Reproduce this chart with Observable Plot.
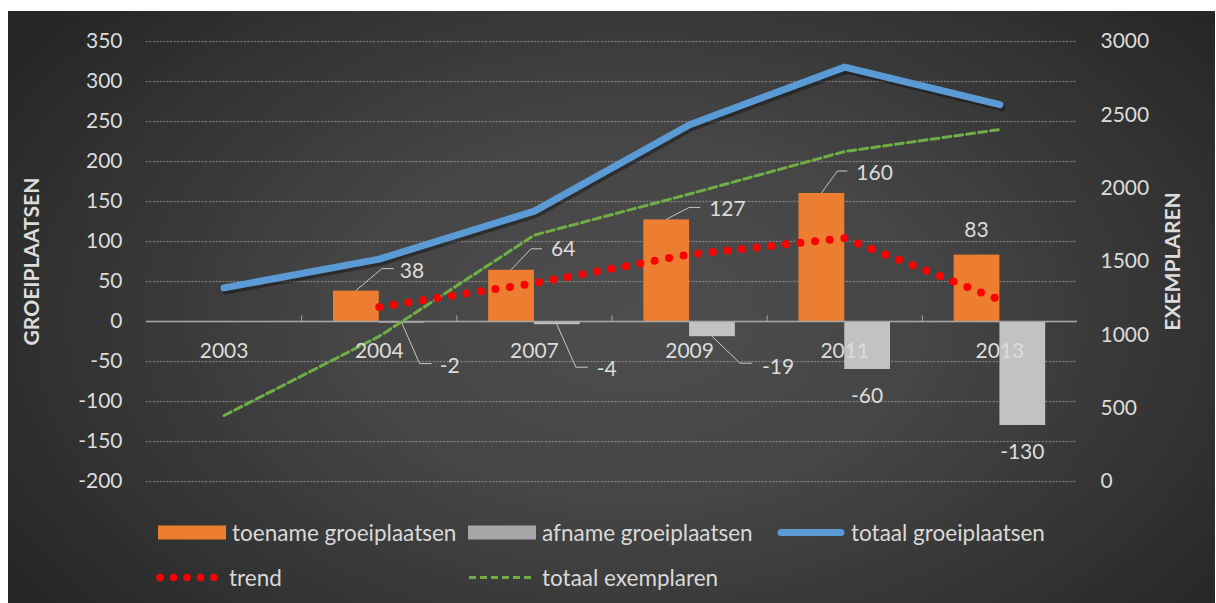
<!DOCTYPE html>
<html>
<head>
<meta charset="utf-8">
<script src="https://cdn.jsdelivr.net/npm/d3@7"></script>
<script src="https://cdn.jsdelivr.net/npm/@observablehq/plot@0.6"></script>
<style>
  html, body { margin: 0; padding: 0; background: #ffffff; }
  #wrap { position: relative; width: 1216px; height: 603px; overflow: hidden; font-family: Lato, "Open Sans", sans-serif; }
  #bg { position: absolute; left: 8px; top: 11px; width: 1207px; height: 592px;
        background: radial-gradient(ellipse 62% 80% at 52% 52%, #4e4e4e 0%, #454545 40%, #333333 75%, #262626 100%); }
  #chart { position: absolute; left: 0; top: 0; }
  #legend { position: absolute; left: 0; top: 500px; width: 1216px; height: 103px; color: #d9d9d9; font-size: 22.5px; }
  .item { position: absolute; display: flex; align-items: center; gap: 6px; white-space: nowrap; transform: translateY(-50%); }
  .item svg { display: block; }
</style>
</head>
<body>
<div id="wrap">
  <div id="bg"></div>
  <div id="chart"></div>
  <div id="legend"></div>
</div>
<script>
// Survey years
const years = ["2003", "2004", "2007", "2009", "2011", "2013"];
// Change in number of growing sites per survey (left axis)
const toename = [null, 38, 64, 127, 160, 83];
const afname = [null, -2, -4, -19, -60, -130];
// Total number of growing sites (left axis)
const totaalGroeiplaatsen = [42, 78, 138, 246, 318, 271];
// Trend of the net change (left axis)
const trend = [null, 18, 48, 84, 104, 27];
// Total number of specimens (right axis)
const totaalExemplaren = [450, 990, 1680, 1960, 2250, 2400];

// Axis ticks
const leftTicks = [-200, -150, -100, -50, 0, 50, 100, 150, 200, 250, 300, 350];
const rightTicks = [0, 500, 1000, 1500, 2000, 2500, 3000];

// Secondary axis mapping: 0..3000 exemplaren onto -200..350 groeiplaatsen
const leftDomain = [-200, 350];
const rightDomain = [0, 3000];
const toLeft = v => leftDomain[0] + (v - rightDomain[0]) * (leftDomain[1] - leftDomain[0]) / (rightDomain[1] - rightDomain[0]);
const fromLeft = v => rightDomain[0] + (v - leftDomain[0]) * (rightDomain[1] - rightDomain[0]) / (leftDomain[1] - leftDomain[0]);

const rows = years.map((year, i) => ({
  i, year,
  toename: toename[i],
  afname: afname[i],
  totaal: totaalGroeiplaatsen[i],
  trend: trend[i],
  exemplaren: totaalExemplaren[i]
}));

const colors = {
  toename: "#ed7d31",
  afname: "#c2c2c2",
  totaal: "#5b9bd5",
  trend: "#ff0000",
  exemplaren: "#70ad47",
  text: "#dcdcdc"
};

const barW = 0.295; // bar width in category units

// Data label placement: leader offsets (px) from the bar end
const labelLayout = [
  {series: "toename", i: 1, leader: [26, -22, 38], text: [44, -20], anchor: "start"},
  {series: "toename", i: 2, leader: [20, -21, 31], text: [40, -21], anchor: "start"},
  {series: "toename", i: 3, leader: [23, -12, 34], text: [43, -11], anchor: "start"},
  {series: "toename", i: 4, leader: [16, -22, 26], text: [35, -20], anchor: "start"},
  {series: "toename", i: 5, leader: null, text: [0, -25], anchor: "middle"},
  {series: "afname", i: 1, leader: [18, 41, 30], text: [38, 43], anchor: "start"},
  {series: "afname", i: 2, leader: [19, 43, 31], text: [40, 44], anchor: "start"},
  {series: "afname", i: 3, leader: [28, 27, 40], text: [50, 30], anchor: "start"},
  {series: "afname", i: 4, leader: null, text: [0, 27], anchor: "middle"},
  {series: "afname", i: 5, leader: null, text: [0, 27], anchor: "middle"}
];

function dataLabels(index, scales) {
  const {x, y} = scales;
  const g = d3.create("svg:g");
  for (const L of labelLayout) {
    const v = L.series === "toename" ? toename[L.i] : afname[L.i];
    const sign = L.series === "toename" ? -1 : 1;
    const cx = x(L.i + sign * barW / 2);
    const cy = y(v);
    if (L.leader) {
      const [dx1, dy1, dx2] = L.leader;
      g.append("path")
        .attr("d", `M${cx},${cy}L${cx + dx1},${cy + dy1}L${cx + dx2},${cy + dy1}`)
        .attr("fill", "none")
        .attr("stroke", "#c8c8c8")
        .attr("stroke-width", 1);
    }
    g.append("text")
      .attr("x", cx + L.text[0])
      .attr("y", cy + L.text[1])
      .attr("dy", "0.35em")
      .attr("text-anchor", L.anchor)
      .attr("fill", colors.text)
      .attr("font-size", 21)
      .text(String(v));
  }
  return g.node();
}

const chart = Plot.plot({
  width: 1216,
  height: 500,
  marginTop: 41,
  marginBottom: 19,
  marginLeft: 146,
  marginRight: 139,
  x: {type: "linear", domain: [-0.5, years.length - 0.5], axis: null},
  y: {domain: leftDomain, label: null},
  style: {background: "transparent", color: colors.text, fontFamily: "Lato, 'Open Sans', sans-serif", fontSize: "21px", overflow: "visible"},
  marks: [
    // gridlines
    Plot.ruleY(leftTicks, {stroke: "#ffffff", strokeOpacity: 0.06, strokeWidth: 2}),
    Plot.ruleY(leftTicks, {stroke: "#bdbdbd", strokeOpacity: 0.55, strokeDasharray: "1.5 2"}),
    // axes
    Plot.axisY(leftTicks, {anchor: "left", tickSize: 0, tickPadding: 24, tickFormat: d => String(d), fontSize: 21, label: null}),
    Plot.axisY(rightTicks.map(toLeft), {anchor: "right", tickSize: 0, tickPadding: 23, tickFormat: d => String(Math.round(fromLeft(d))), fontSize: 21, label: null}),
    // axis titles
    Plot.text(["GROEIPLAATSEN"], {frameAnchor: "left", dx: -114, rotate: -90, textAnchor: "middle", text: d => d, fontWeight: "bold", fontSize: 21, fill: colors.text}),
    Plot.text(["EXEMPLAREN"], {frameAnchor: "right", dx: 96, rotate: -90, textAnchor: "middle", text: d => d, fontWeight: "bold", fontSize: 21, fill: colors.text}),
    // bars
    Plot.rectY(rows.filter(d => d.toename != null), {x1: d => d.i - barW, x2: d => d.i, y1: 0, y2: "toename", fill: colors.toename, ariaLabel: "bars-toename"}),
    Plot.rectY(rows.filter(d => d.afname != null), {x1: d => d.i, x2: d => d.i + barW, y1: 0, y2: "afname", fill: colors.afname, ariaLabel: "bars-afname"}),
    // zero line with category ticks
    Plot.ruleY([0], {stroke: "#a6a6a6", strokeWidth: 1.5}),
    Plot.ruleX(years.slice(1).map((_, i) => i + 0.5), {y1: 0, y2: 7, stroke: "#a6a6a6"}),
    // lines
    Plot.line(rows, {x: "i", y: d => toLeft(d.exemplaren), stroke: colors.exemplaren, strokeWidth: 3, strokeDasharray: "8 4"}),
    Plot.line(rows.filter(d => d.trend != null), {x: "i", y: "trend", stroke: colors.trend, strokeWidth: 8, strokeDasharray: "0 14.7", strokeLinecap: "round"}),
    // shadow under the total line, then the line itself
    Plot.line(rows, {x: "i", y: "totaal", stroke: "#000000", strokeOpacity: 0.35, strokeWidth: 7, dx: 2, dy: 3, strokeLinejoin: "round", strokeLinecap: "round"}),
    Plot.line(rows, {x: "i", y: "totaal", stroke: colors.totaal, strokeWidth: 7, strokeLinejoin: "round", strokeLinecap: "round"}),
    // category labels
    Plot.text(rows, {x: "i", y: 0, text: "year", dy: 30, fill: colors.text, fontSize: 21}),
    // data labels
    dataLabels
  ]
});

// soft drop shadows on the bars
for (const name of ["bars-toename", "bars-afname"]) {
  const g = chart.querySelector(`g[aria-label="${name}"]`);
  if (g) g.style.filter = "drop-shadow(2px 3px 3px rgba(0,0,0,0.55))";
}
document.getElementById("chart").appendChild(chart);

// Legend
const legendItems = [
  {label: "toename groeiplaatsen", key: "toename", left: 158, top: 32},
  {label: "afname groeiplaatsen", key: "afnameSwatch", left: 468, top: 32},
  {label: "totaal groeiplaatsen", key: "totaal", left: 777, top: 32},
  {label: "trend", key: "trend", left: 155, top: 77},
  {label: "totaal exemplaren", key: "exemplaren", left: 468, top: 77}
];

function swatch(key) {
  const svg = d3.create("svg").attr("width", 68).attr("height", 16);
  if (key === "toename" || key === "afnameSwatch") {
    svg.append("rect").attr("x", 0).attr("y", 1).attr("width", 68).attr("height", 14)
      .attr("fill", key === "toename" ? colors.toename : "#a6a6a6");
  } else if (key === "totaal") {
    svg.append("line").attr("x1", 4).attr("x2", 64).attr("y1", 8).attr("y2", 8)
      .attr("stroke", colors.totaal).attr("stroke-width", 7).attr("stroke-linecap", "round");
  } else if (key === "trend") {
    svg.append("line").attr("x1", 5).attr("x2", 64).attr("y1", 8).attr("y2", 8)
      .attr("stroke", colors.trend).attr("stroke-width", 7.5).attr("stroke-linecap", "round")
      .attr("stroke-dasharray", "0 13.5");
  } else {
    svg.append("line").attr("x1", 1).attr("x2", 67).attr("y1", 8).attr("y2", 8)
      .attr("stroke", colors.exemplaren).attr("stroke-width", 3).attr("stroke-dasharray", "7 4");
  }
  return svg.node();
}

const legend = d3.select("#legend");
for (const item of legendItems) {
  const div = legend.append("div").attr("class", "item")
    .style("left", item.left + "px").style("top", item.top + "px");
  div.node().appendChild(swatch(item.key));
  div.append("span").text(item.label);
}
</script>
</body>
</html>
